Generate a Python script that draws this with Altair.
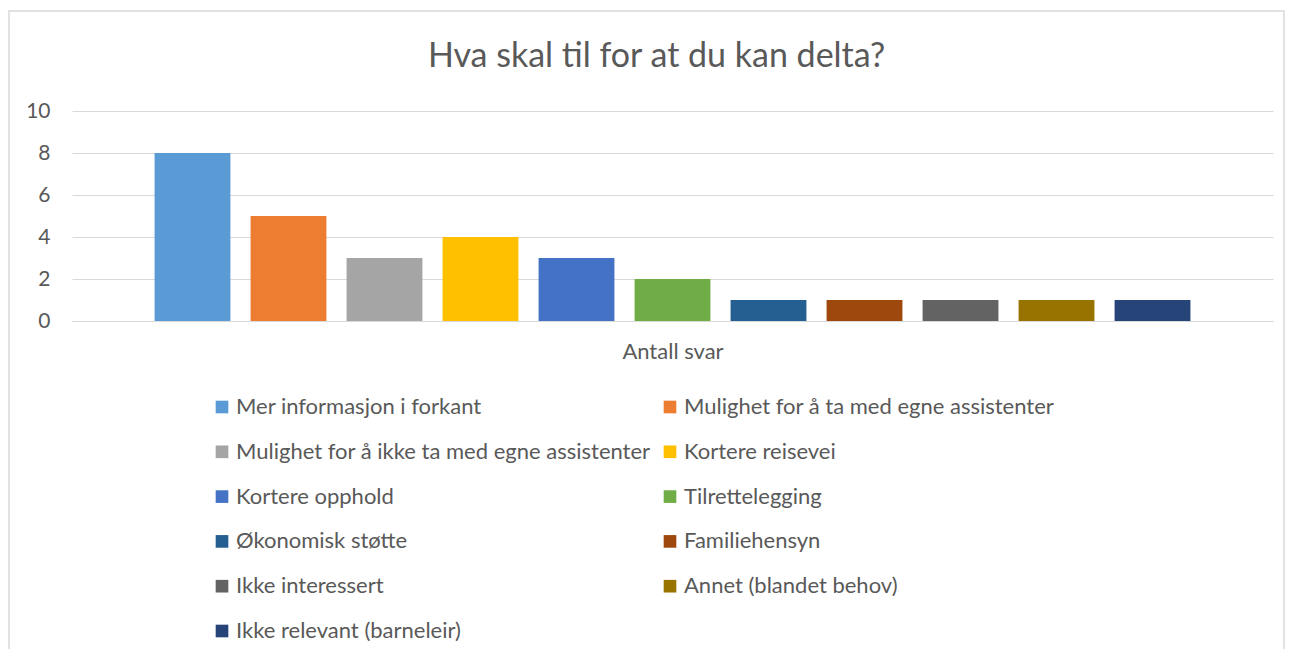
import altair as alt
import pandas as pd

categories = [
    "Mer informasjon i forkant",
    "Mulighet for å ta med egne assistenter",
    "Mulighet for å ikke ta med egne assistenter",
    "Kortere reisevei",
    "Kortere opphold",
    "Tilrettelegging",
    "Økonomisk støtte",
    "Familiehensyn",
    "Ikke interessert",
    "Annet (blandet behov)",
    "Ikke relevant (barneleir)",
]
values = [8, 5, 3, 4, 3, 2, 1, 1, 1, 1, 1]
colors = ["#5B9BD5", "#ED7D31", "#A5A5A5", "#FFC000", "#4472C4", "#70AD47",
          "#255E91", "#9E480E", "#636363", "#997300", "#264478"]
y_ticks = [0, 2, 4, 6, 8, 10]

df = pd.DataFrame({"Kategori": categories, "Antall": values})

FONT = "Lato"
GREY = "#595959"

bars = alt.Chart(df).mark_bar().encode(
    x=alt.X("Kategori:N", sort=categories,
            scale=alt.Scale(paddingInner=0.21, paddingOuter=0.86),
            axis=alt.Axis(labels=False, ticks=False, title="Antall svar",
                          titleFontSize=22, titleFont=FONT, titleColor=GREY,
                          titleFontWeight="normal", titlePadding=20,
                          domainColor="#d9d9d9", domainWidth=1)),
    y=alt.Y("Antall:Q", scale=alt.Scale(domain=[0, 10]),
            axis=alt.Axis(values=y_ticks, title=None, ticks=False, domain=False,
                          labelFontSize=21, labelFont=FONT, labelColor=GREY,
                          labelPadding=22, gridColor="#d9d9d9", gridWidth=1)),
    color=alt.Color("Kategori:N", sort=categories,
                    scale=alt.Scale(domain=categories, range=colors),
                    legend=alt.Legend(title=None, orient="none", legendX=139, legendY=285,
                                      columns=2, direction="horizontal",
                                      symbolType="square", symbolSize=160,
                                      symbolStrokeWidth=0,
                                      labelFontSize=22, labelFont=FONT, labelColor=GREY,
                                      labelOffset=3, rowPadding=22.8, columnPadding=8,
                                      labelLimit=600)),
)

frame = alt.Chart(pd.DataFrame({"f": [0]})).mark_rect(
    fill=None, stroke="#d9d9d9", strokeWidth=1.5, clip=False
).encode(
    x=alt.value(-63), x2=alt.value(1212),
    y=alt.value(-100), y2=alt.value(560),
)

chart = alt.layer(frame, bars).properties(
    width=1201, height=210,
    title=alt.TitleParams("Hva skal til for at du kan delta?", fontSize=34, font=FONT,
                          color=GREY, fontWeight="normal", anchor="middle", dx=-16,
                          offset=0, dy=64),
    autosize=alt.AutoSizeParams(type="none"),
    padding={"left": 64, "top": 103, "right": 12, "bottom": 328},
).configure_view(stroke=None)

chart.save("out.html", embed_options={"renderer": "svg", "actions": False})
